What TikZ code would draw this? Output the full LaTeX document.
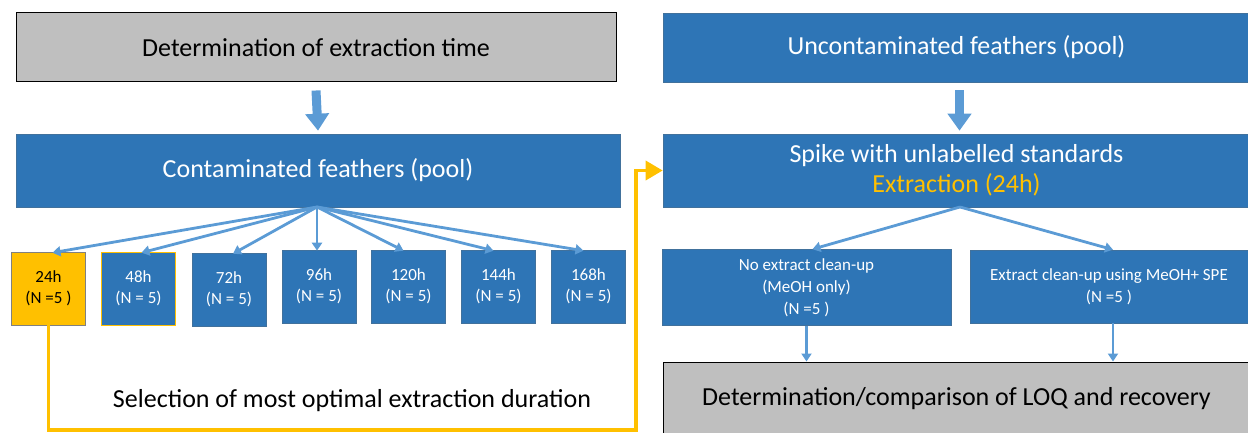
\documentclass[tikz,border=0pt]{standalone}
\usepackage{fontspec}
\setmainfont{Carlito}
\usetikzlibrary{arrows.meta}
\definecolor{boxblue}{RGB}{46,117,182}
\definecolor{boxedge}{RGB}{65,113,156}
\definecolor{arrblue}{RGB}{91,155,213}
\definecolor{gold}{RGB}{255,192,0}
\definecolor{greyfill}{RGB}{191,191,191}
\tikzset{
  bigtext/.style={font=\fontsize{26}{30}\selectfont},
  smalltext/.style={font=\fontsize{17}{21}\selectfont, align=center},
  greybox/.style={draw=black, line width=1pt, fill=greyfill, inner sep=0pt, bigtext, text=black},
  bluebox/.style={draw=boxedge, line width=0.6pt, fill=boxblue, inner sep=0pt, text=white},
  timebox/.style={bluebox, smalltext, minimum width=74pt, minimum height=73pt},
  blockarrow/.style={draw=arrblue, line width=9pt, -{Triangle[width=23pt,length=17pt]}},
  thinarrow/.style={draw=arrblue, line width=2.8pt, -{Triangle[width=10pt,length=8pt]}},
  goldline/.style={draw=gold, line width=3.5pt, -{Triangle[width=19pt,length=17pt]}},
}
\begin{document}
\begin{tikzpicture}[x=1pt,y=-1pt]
\useasboundingbox (0,0) rectangle (1248,433);
% left column
\node[greybox, minimum width=600pt, minimum height=69pt] (det) at (316,47.5) {Determination of extraction time};
\node[bluebox, bigtext, minimum width=604pt, minimum height=73pt] (cont) at (318,170.5) {Contaminated feathers (pool)};
\node[timebox, fill=gold, draw=gray, text=black] (b24) at (48.5,288.5) {24h\\(N =5 )};
\node[timebox, draw=gold] (b48) at (138.5,288.5) {48h\\(N = 5)};
\node[timebox] (b72) at (229,289.5) {72h\\(N = 5)};
\node[timebox] (b96) at (319,286.5) {96h\\(N = 5)};
\node[timebox] (b120) at (408.5,286.5) {120h\\(N = 5)};
\node[timebox] (b144) at (498.5,286.5) {144h\\(N = 5)};
\node[timebox] (b168) at (588.5,286.5) {168h\\(N = 5)};
\node[bigtext, text=black] (sel) at (352,401) {Selection of most optimal extraction duration};
% right column
\node[bluebox, bigtext, minimum width=587pt, minimum height=69pt] (unc) at (956.5,47.5) {Uncontaminated feathers (pool)};
\node[bluebox, bigtext, align=center, minimum width=587pt, minimum height=73pt] (spike) at (956.5,170.5) {Spike with unlabelled standards\\\textcolor{gold}{Extraction (24h)}};
\node[bluebox, smalltext, font=\fontsize{17}{22}\selectfont, minimum width=289pt, minimum height=76pt] (noex) at (806.5,287.5) {No extract clean-up\\(MeOH only)\\(N =5 )};
\node[bluebox, smalltext, font=\fontsize{17}{22}\selectfont, minimum width=278pt, minimum height=73pt] (ex) at (1109,286.5) {Extract clean-up using MeOH+ SPE\\(N =5 )};
\node[greybox, minimum width=587pt, minimum height=74pt] (loq) at (956.5,399) {Determination/comparison of LOQ and recovery};
% block arrows
\draw[blockarrow] ([yshift=-8pt]det.south) -- ([yshift=3pt]cont.north);
\draw[blockarrow] ([yshift=-8pt,xshift=3pt]unc.south) -- ([yshift=3pt,xshift=3pt]spike.north);
% fan arrows
\coordinate (fan) at (317,207);
\foreach \b/\s in {b24/4,b48/3,b72/4,b96/-2,b120/-5,b144/-5,b168/-5}{
  \draw[thinarrow] (fan) -- ([xshift=\s pt, yshift=-1pt]\b.north);
}
\coordinate (fan2) at (960,207);
\draw[thinarrow] (fan2) -- ([xshift=6pt]noex.north);
\draw[thinarrow] (fan2) -- ([xshift=4pt]ex.north);
\coordinate (na) at ([xshift=0pt]noex.south);
\coordinate (ea) at ([xshift=4pt]ex.south);
\draw[thinarrow] (na) -- (na |- loq.north);
\draw[thinarrow] (ea) -- (ea |- loq.north);
% gold path
\coordinate (g1) at (636,430);
\draw[goldline] (b24.south) |- (g1) |- (spike.west);
\end{tikzpicture}
\end{document}
